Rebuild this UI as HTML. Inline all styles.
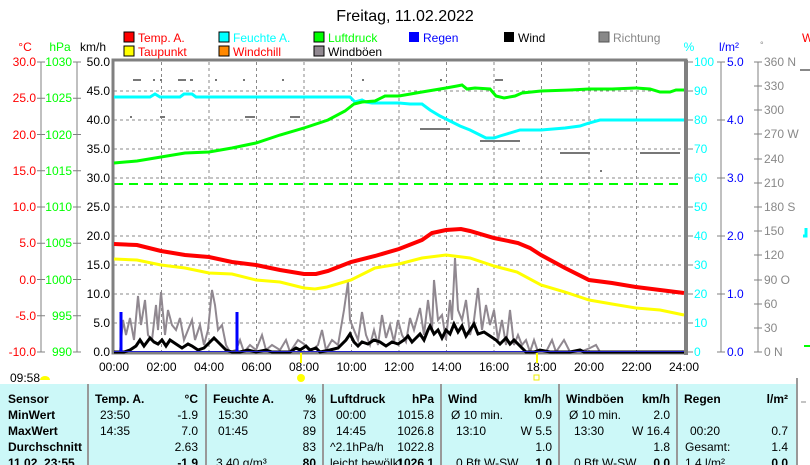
<!DOCTYPE html>
<html><head><meta charset="utf-8"><style>
body{margin:0;width:810px;height:465px;overflow:hidden;background:#fff;font-family:"Liberation Sans",sans-serif}
svg{display:block}
</style></head><body>
<svg width="810" height="465" xmlns="http://www.w3.org/2000/svg" font-family="Liberation Sans, sans-serif" font-size="12">
<text x="405" y="21" font-size="16" text-anchor="middle">Freitag, 11.02.2022</text>
<g font-size="12">
<rect x="124" y="32" width="10" height="10" fill="#f00" stroke="#000"/><text x="138" y="42" fill="#f00">Temp. A.</text>
<rect x="124" y="46" width="10" height="10" fill="#ff0" stroke="#000"/><text x="138" y="56" fill="#f00">Taupunkt</text>
<rect x="219" y="32" width="10" height="10" fill="#0ff" stroke="#000"/><text x="233" y="42" fill="#0ff">Feuchte A.</text>
<rect x="219" y="46" width="10" height="10" fill="#f80" stroke="#000"/><text x="233" y="56" fill="#f00">Windchill</text>
<rect x="314" y="32" width="10" height="10" fill="#0f0" stroke="#000"/><text x="328" y="42" fill="#0f0">Luftdruck</text>
<rect x="314" y="46" width="10" height="10" fill="#908890" stroke="#000"/><text x="328" y="56">Windböen</text>
<rect x="409" y="32" width="10" height="10" fill="#00f"/><text x="423" y="42" fill="#00f">Regen</text>
<rect x="504" y="32" width="10" height="10" fill="#000"/><text x="518" y="42">Wind</text>
<rect x="599" y="32" width="10" height="10" fill="#888" stroke="#555"/><text x="613" y="42" fill="#888">Richtung</text>
<text x="802" y="42" fill="#f00">W</text>
</g>
<text x="25" y="51" fill="#f00" text-anchor="middle">°C</text>
<text x="60" y="51" fill="#0f0" text-anchor="middle">hPa</text>
<text x="93" y="51" text-anchor="middle">km/h</text>
<text x="689" y="51" fill="#0ff" text-anchor="middle">%</text>
<text x="729" y="51" fill="#00f" text-anchor="middle">l/m²</text>
<text x="760" y="48" fill="#888" font-size="9">°</text>
<g stroke="#888" stroke-dasharray="3,3" stroke-width="1">
<path d="M114 91H684M114 120H684M114 149H684M114 178H684M114 207H684M114 236H684M114 265H684M114 294H684M114 323H684"/>
<path d="M161.5 62V352M209 62V352M256.5 62V352M304 62V352M351.5 62V352M399 62V352M446.5 62V352M494 62V352M541.5 62V352M589 62V352M636.5 62V352"/>
</g>
<g fill="#777">
<rect x="133" y="79" width="8" height="2"/><rect x="153" y="79" width="2" height="2"/><rect x="160" y="79" width="2" height="2"/><rect x="178" y="79" width="8" height="2"/><rect x="190" y="79" width="3" height="2"/><rect x="215" y="79" width="2" height="2"/><rect x="243" y="79" width="2" height="2"/><rect x="282" y="79" width="2" height="2"/><rect x="362" y="79" width="2" height="2"/><rect x="440" y="79" width="2" height="2"/><rect x="495" y="79" width="8" height="2"/>
<rect x="130" y="116" width="2" height="2"/><rect x="160" y="116" width="5" height="2"/><rect x="245" y="116" width="10" height="2"/><rect x="290" y="116" width="10" height="2"/><rect x="420" y="128" width="30" height="2"/><rect x="480" y="140" width="40" height="2"/><rect x="560" y="152" width="30" height="2"/><rect x="640" y="152" width="40" height="2"/><rect x="600" y="170" width="2" height="2"/>
</g>
<line x1="114" y1="184" x2="684" y2="184" stroke="#0f0" stroke-width="2" stroke-dasharray="9,6"/>
<rect x="113" y="60" width="573" height="293" fill="none" stroke="#808080" stroke-width="3"/>
<line x1="686" y1="60" x2="686" y2="355" stroke="#808080" stroke-width="4"/>
<g stroke="#808080"><line x1="41" y1="62" x2="41" y2="352"/><line x1="77" y1="62" x2="77" y2="352"/>
<path d="M37 62h8M37 98.25h8M37 134.5h8M37 170.75h8M37 207h8M37 243.25h8M37 279.5h8M37 315.75h8M37 352h8"/>
<path d="M73 62h8M73 98.25h8M73 134.5h8M73 170.75h8M73 207h8M73 243.25h8M73 279.5h8M73 315.75h8M73 352h8"/>
<line x1="721" y1="62" x2="721" y2="352"/><line x1="758" y1="62" x2="758" y2="352"/>
<path d="M688 62h5M688 91h5M688 120h5M688 149h5M688 178h5M688 207h5M688 236h5M688 265h5M688 294h5M688 323h5M688 352h5"/>
<path d="M717 62h8M717 120h8M717 178h8M717 236h8M717 294h8M717 352h8"/>
<path d="M754 62h8M754 86h8M754 110h8M754 134h8M754 159h8M754 183h8M754 207h8M754 231h8M754 255h8M754 280h8M754 304h8M754 328h8M754 352h8"/>
</g>
<g text-anchor="end" fill="#f00">
<text x="36" y="66">30.0</text><text x="36" y="102">25.0</text><text x="36" y="139">20.0</text><text x="36" y="175">15.0</text><text x="36" y="211">10.0</text><text x="36" y="247">5.0</text><text x="36" y="284">0.0</text><text x="36" y="320">-5.0</text><text x="36" y="356">-10.0</text>
</g>
<g text-anchor="end" fill="#0f0">
<text x="72" y="66">1030</text><text x="72" y="102">1025</text><text x="72" y="139">1020</text><text x="72" y="175">1015</text><text x="72" y="211">1010</text><text x="72" y="247">1005</text><text x="72" y="284">1000</text><text x="72" y="320">995</text><text x="72" y="356">990</text>
</g>
<g text-anchor="end">
<text x="110" y="66">50.0</text><text x="110" y="95">45.0</text><text x="110" y="124">40.0</text><text x="110" y="153">35.0</text><text x="110" y="182">30.0</text><text x="110" y="211">25.0</text><text x="110" y="240">20.0</text><text x="110" y="269">15.0</text><text x="110" y="298">10.0</text><text x="110" y="327">5.0</text><text x="110" y="356">0.0</text>
</g>
<g fill="#0ff">
<text x="694" y="66">100</text><text x="694" y="95">90</text><text x="694" y="124">80</text><text x="694" y="153">70</text><text x="694" y="182">60</text><text x="694" y="211">50</text><text x="694" y="240">40</text><text x="694" y="269">30</text><text x="694" y="298">20</text><text x="694" y="327">10</text><text x="694" y="356">0</text>
</g>
<g fill="#00f">
<text x="727" y="66">5.0</text><text x="727" y="124">4.0</text><text x="727" y="182">3.0</text><text x="727" y="240">2.0</text><text x="727" y="298">1.0</text><text x="727" y="356">0.0</text>
</g>
<g fill="#888">
<text x="764" y="66">360 N</text><text x="764" y="90">330</text><text x="764" y="114">300</text><text x="764" y="138">270 W</text><text x="764" y="163">240</text><text x="764" y="187">210</text><text x="764" y="211">180 S</text><text x="764" y="235">150</text><text x="764" y="259">120</text><text x="764" y="284">90  O</text><text x="764" y="308">60</text><text x="764" y="332">30</text><text x="764" y="356">0   N</text>
</g>
<path d="M803 236h3v-8" stroke="#0ff" stroke-width="3" fill="none"/>
<line x1="804" y1="346" x2="810" y2="346" stroke="#0f0" stroke-width="2"/>
<line x1="800" y1="70" x2="810" y2="70" stroke="#888" stroke-width="2"/>
<polyline fill="none" stroke="#908890" stroke-width="2" points="114,352 120,352 123,320 126,335 130,318 134,340 138,296 141,325 145,300 148,335 152,340 156,305 158,330 161,292 165,335 168,310 172,325 176,330 180,318 184,340 188,330 192,320 195,340 200,325 204,345 208,330 212,290 215,305 218,330 222,325 226,345 230,352 236,350 240,340 244,352 250,345 256,350 262,335 266,350 272,345 280,350 286,340 290,352 298,340 304,344 310,352 318,345 322,330 326,350 332,340 338,345 344,310 348,282 350,320 354,330 358,340 362,312 366,335 370,345 374,330 378,345 382,315 386,338 390,325 394,342 398,320 402,335 406,342 410,318 414,330 420,308 424,335 428,300 432,330 434,280 438,320 442,315 446,340 450,300 452,320 455,258 458,310 462,320 466,300 470,335 474,320 478,288 482,330 486,305 490,325 494,310 498,340 502,320 506,345 510,310 514,345 518,335 522,345 526,340 530,352 534,340 538,352 546,352 552,340 556,352 564,340 570,352 580,352 590,348 596,345 600,352 684,352"/>
<polyline fill="none" stroke="#000" stroke-width="3" points="114,352 124,352 130,350 136,346 140,340 144,346 150,338 154,342 158,344 162,340 166,346 170,340 176,344 182,348 188,344 192,346 198,350 204,348 210,342 214,338 218,342 222,346 226,350 232,352 240,352 248,350 256,352 266,350 272,352 280,352 290,352 296,348 300,350 306,346 310,350 316,348 320,352 330,350 338,348 346,340 350,334 354,342 358,346 362,342 368,344 374,340 380,342 386,346 392,342 398,344 404,340 408,336 412,342 416,338 420,334 424,340 428,330 430,326 434,334 438,330 442,338 446,330 450,334 454,324 458,332 462,326 466,336 470,330 474,324 478,334 484,332 490,336 496,340 500,344 506,338 510,344 514,340 520,346 526,352 534,352 540,350 550,352 570,352 580,350 584,352 684,352"/>
<path d="M121 352V312M237 352V312" stroke="#00f" stroke-width="3"/>
<line x1="114" y1="351.5" x2="684" y2="351.5" stroke="#22c" stroke-width="1"/>
<polyline fill="none" stroke="#0ff" stroke-width="3" points="114,97 150,97 155,94 160,97 180,97 184,94 192,94 196,97 350,97 355,102 362,100 366,102 372,103 399,103 410,104 422,104 430,110 440,116 450,121 460,126 470,130 480,135 486,138 494,138 500,136 510,133 520,130 541,130 565,128 580,126 589,123 600,120 684,120"/>
<polyline fill="none" stroke="#0f0" stroke-width="3" points="114,163 137,161 161,157 185,153 209,152 232,148 256,143 280,135 304,128 328,120 345,111 354,104 362,102 375,101 385,96 399,96 422,92 446,88 457,86 462,85 467,89 475,88 490,89 496,96 504,98 515,96 522,93 541,91 570,90 589,89 612,89 636,88 650,89 660,92 670,92 676,90 684,90"/>
<polyline fill="none" stroke="#ff0" stroke-width="3" points="114,259 137,260 161,265 185,268 209,273 232,274 256,280 280,282 304,288 315,289 327,287 351,280 375,268 399,264 422,258 446,255 470,258 494,266 517,272 541,285 565,292 589,300 612,304 636,308 660,310 684,315"/>
<polyline fill="none" stroke="#f00" stroke-width="4" points="114,244 137,245 161,251 185,255 209,257 232,262 256,265 280,270 304,274 316,274 328,271 351,262 375,256 399,249 422,240 432,233 446,230 461,229 470,231 494,238 518,243 530,248 541,255 565,268 589,280 612,283 636,287 660,290 684,293"/>
<g text-anchor="middle">
<text x="114" y="371">00:00</text><text x="161.5" y="371">02:00</text><text x="209" y="371">04:00</text><text x="256.5" y="371">06:00</text><text x="304" y="371">08:00</text><text x="351.5" y="371">10:00</text><text x="399" y="371">12:00</text><text x="446.5" y="371">14:00</text><text x="494" y="371">16:00</text><text x="541.5" y="371">18:00</text><text x="589" y="371">20:00</text><text x="636.5" y="371">22:00</text><text x="684" y="371">24:00</text>
</g>
<rect x="300" y="353" width="2" height="10" fill="#ff0"/><rect x="536" y="353" width="2" height="10" fill="#ff0"/>
<text x="10" y="382">09:58</text>
<path d="M40 380a5 4 0 0 1 10 0z" fill="#ff0"/>
<circle cx="301" cy="378" r="4" fill="#ff0"/>
<rect x="534" y="375" width="5" height="5" fill="none" stroke="#ee0"/>
<rect x="0" y="384" width="798" height="81" fill="#ccf8f8"/>
<g stroke="#999" stroke-width="2"><path d="M88 384V465M206 384V465M323 384V465M441 384V465M559 384V465M677 384V465M797 378V465"/></g>
<g font-weight="bold">
<text x="8" y="403">Sensor</text><text x="8" y="419">MinWert</text><text x="8" y="435">MaxWert</text><text x="8" y="451">Durchschnitt</text><text x="8" y="467">11.02. 23:55</text>
<text x="95" y="403">Temp. A.</text><text x="213" y="403">Feuchte A.</text><text x="330" y="403">Luftdruck</text><text x="448" y="403">Wind</text><text x="566" y="403">Windböen</text><text x="684" y="403">Regen</text>
</g>
<g text-anchor="end" font-weight="bold"><text x="198" y="403">°C</text><text x="316" y="403">%</text><text x="434" y="403">hPa</text><text x="552" y="403">km/h</text><text x="670" y="403">km/h</text><text x="788" y="403">l/m²</text>
<text x="198" y="467">-1.9</text><text x="316" y="467">80</text><text x="434" y="467">1026.1</text><text x="552" y="467">1.0</text><text x="670" y="467">0.0</text><text x="788" y="467">0.0</text></g>
<g><text x="100" y="419">23:50</text><text x="100" y="435">14:35</text><text x="218" y="419">15:30</text><text x="218" y="435">01:45</text><text x="216" y="467">3.40 g/m³</text>
<text x="336" y="419">00:00</text><text x="336" y="435">14:45</text><text x="330" y="451">^2.1hPa/h</text><text x="330" y="467">leicht bewölkt</text>
<text x="451" y="419">Ø 10 min.</text><text x="456" y="435">13:10</text><text x="456" y="467">0 Bft W-SW</text>
<text x="569" y="419">Ø 10 min.</text><text x="574" y="435">13:30</text><text x="574" y="467">0 Bft W-SW</text>
<text x="690" y="435">00:20</text><text x="685" y="451">Gesamt:</text><text x="685" y="467">1.4 l/m²</text></g>
<g text-anchor="end"><text x="198" y="419">-1.9</text><text x="198" y="435">7.0</text><text x="198" y="451">2.63</text>
<text x="316" y="419">73</text><text x="316" y="435">89</text><text x="316" y="451">83</text>
<text x="434" y="419">1015.8</text><text x="434" y="435">1026.8</text><text x="434" y="451">1022.8</text>
<text x="552" y="419">0.9</text><text x="552" y="435">W 5.5</text><text x="552" y="451">1.0</text>
<text x="670" y="419">2.0</text><text x="670" y="435">W 16.4</text><text x="670" y="451">1.8</text>
<text x="788" y="435">0.7</text><text x="788" y="451">1.4</text></g>
<line x1="801" y1="402" x2="806" y2="402" stroke="#888"/>
</svg>
</body></html>
